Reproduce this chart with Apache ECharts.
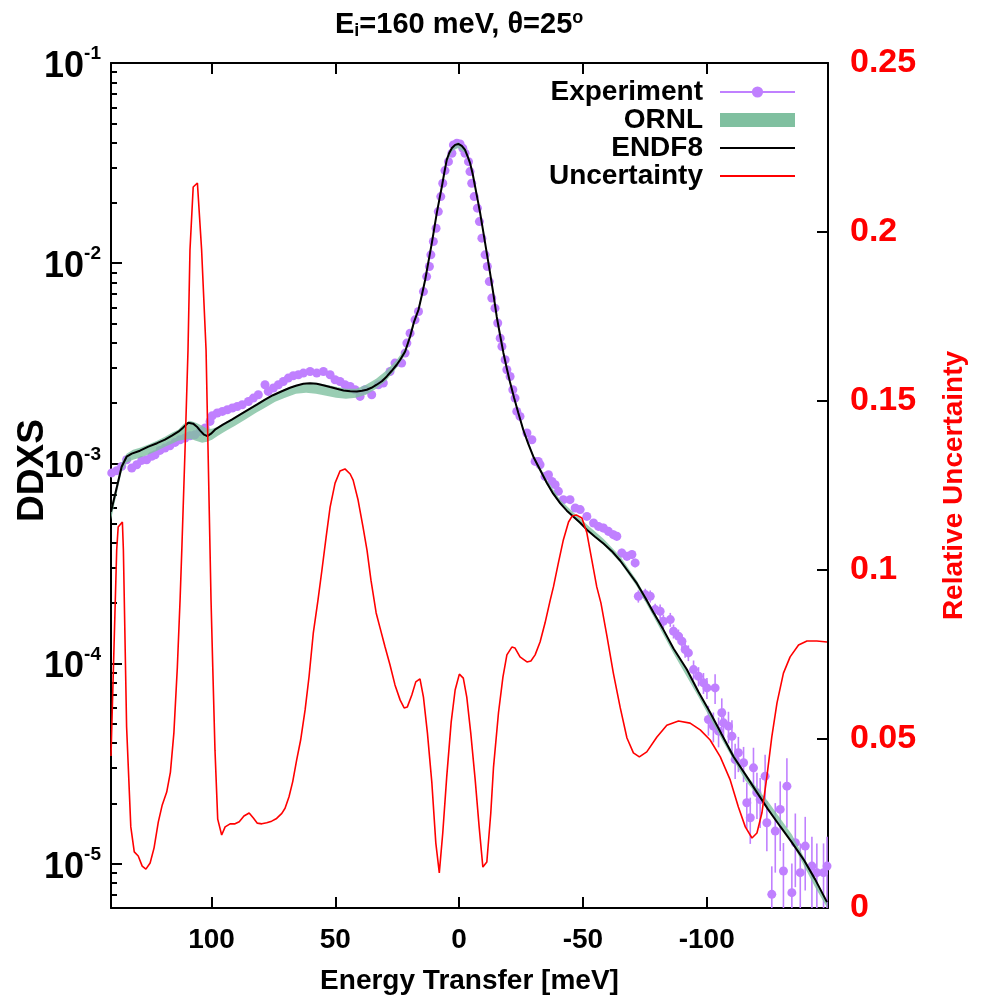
<!DOCTYPE html>
<html><head><meta charset="utf-8">
<script src="https://cdn.jsdelivr.net/npm/echarts@6/dist/echarts.min.js"></script>
<style>html,body{margin:0;padding:0;background:#fff}#c{width:983px;height:999px}</style>
</head><body><div id="c"></div>
<script>
// ---------------- DATA ----------------
// Experiment (energy transfer [meV], DDXS) and relative error
const expX = [140.3,138.3,136.3,134.3,132.2,130.2,128.2,126.2,124.2,122.8,
120.8,118.8,116.8,114.7,112.7,110.7,108.7,106.7,104.6,102.6,
100.6,99.7,97.7,95.6,93.6,91.6,89.6,87.6,85.1,83.1,
81.1,78.4,77.1,75.0,73.0,71.0,69.0,67.0,64.9,62.9,
60.2,57.5,54.8,52.1,50.1,48.1,46.1,44.0,42.0,40.0,
38.0,35.3,32.6,30.6,27.9,25.9,23.2,21.8,21.1,19.8,
17.8,16.4,14.4,13.1,12.0,11.4,10.4,9.3,8.4,7.4,
6.6,5.7,4.3,2.9,2.3,0.9,-0.4,-1.5,-2.4,-3.8,
-4.4,-5.1,-6.1,-7.4,-8.2,-9.2,-10.5,-11.4,-12.2,-13.2,
-14.5,-15.6,-16.6,-17.3,-18.6,-19.3,-20.6,-21.7,-22.6,-23.3,
-24.6,-27.4,-29.4,-30.7,-32.0,-32.7,-34.7,-36.1,-37.5,-38.8,
-40.1,-42.1,-44.8,-46.9,-48.9,-51.6,-54.3,-56.3,-58.3,-60.3,
-62.3,-63.7,-65.7,-67.8,-69.8,-71.1,-72.4,-75.2,-77.2,-79.2,
-81.2,-82.5,-85.3,-86.6,-88.6,-90.0,-91.3,-92.6,-94.7,-96.7,
-98.7,-100.1,-100.7,-102.7,-103.4,-104.8,-106.1,-106.8,-108.8,-110.2,
-111.5,-112.8,-114.9,-116.2,-117.6,-118.9,-120.3,-121.6,-123.6,-124.3,
-126.3,-127.7,-129.7,-131.0,-132.4,-134.4,-135.8,-137.8,-139.8,-142.5,
-144.5,-147.2,-148.6];
const expY = [8.95e-4,9.19e-4,9.65e-4,1.042e-3,9.47e-4,9.84e-4,1.034e-3,1.042e-3,1.083e-3,1.104e-3,
1.160e-3,1.192e-3,1.224e-3,1.272e-3,1.311e-3,1.337e-3,1.373e-3,1.389e-3,1.443e-3,1.501e-3,
1.619e-3,1.728e-3,1.783e-3,1.816e-3,1.852e-3,1.888e-3,1.923e-3,1.961e-3,2.037e-3,2.118e-3,
2.201e-3,2.469e-3,2.286e-3,2.377e-3,2.469e-3,2.564e-3,2.666e-3,2.738e-3,2.769e-3,2.824e-3,
2.876e-3,2.824e-3,2.876e-3,2.769e-3,2.614e-3,2.564e-3,2.469e-3,2.420e-3,2.330e-3,2.158e-3,
2.330e-3,2.201e-3,2.469e-3,2.518e-3,2.876e-3,3.167e-3,3.167e-3,3.553e-3,3.987e-3,4.47e-3,
5.21e-3,5.73e-3,7.21e-3,8.57e-3,9.62e-3,1.100e-2,1.282e-2,1.495e-2,1.810e-2,2.150e-2,
2.507e-2,2.900e-2,3.215e-2,3.540e-2,3.896e-2,3.973e-2,3.941e-2,3.750e-2,3.540e-2,3.215e-2,
2.867e-2,2.507e-2,2.150e-2,1.882e-2,1.613e-2,1.333e-2,1.100e-2,9.62e-3,8.09e-3,6.69e-3,
5.96e-3,5.02e-3,4.22e-3,3.833e-3,3.290e-3,2.933e-3,2.716e-3,2.330e-3,2.118e-3,1.816e-3,
1.715e-3,1.417e-3,1.311e-3,1.022e-3,1.022e-3,9.84e-4,8.60e-4,8.77e-4,8.12e-4,7.82e-4,
7.24e-4,6.58e-4,6.58e-4,5.98e-4,5.87e-4,5.43e-4,5.03e-4,4.84e-4,4.75e-4,4.57e-4,
4.40e-4,4.32e-4,3.565e-4,3.43e-4,3.50e-4,3.18e-4,2.165e-4,2.208e-4,2.165e-4,1.858e-4,
1.822e-4,1.624e-4,1.656e-4,1.448e-4,1.367e-4,1.291e-4,1.173e-4,1.129e-4,9.32e-5,8.63e-5,
8.00e-5,7.55e-5,5.25e-5,4.86e-5,7.55e-5,4.59e-5,5.67e-5,5.05e-5,4.86e-5,4.33e-5,
3.31e-5,3.58e-5,3.19e-5,2.013e-5,1.695e-5,3.01e-5,2.259e-5,2.091e-5,2.734e-5,1.600e-5,
7.02e-6,1.453e-5,1.865e-5,9.18e-6,2.438e-5,7.16e-6,1.271e-5,9.01e-6,1.223e-5,9.72e-6,
9.01e-6,9.01e-6,9.72e-6];
const expErr = [0.01,0.01,0.01,0.01,0.01,0.01,0.01,0.01,0.01,0.01,
0.01,0.01,0.01,0.01,0.01,0.01,0.01,0.01,0.01,0.01,
0.01,0.01,0.01,0.01,0.01,0.01,0.01,0.01,0.01,0.01,
0.01,0.01,0.01,0.01,0.01,0.01,0.01,0.01,0.01,0.01,
0.01,0.01,0.01,0.01,0.01,0.01,0.01,0.01,0.01,0.01,
0.01,0.01,0.01,0.01,0.01,0.01,0.01,0.01,0.01,0.01,
0.01,0.01,0.01,0.01,0.01,0.01,0.01,0.01,0.01,0.01,
0.01,0.01,0.01,0.01,0.01,0.01,0.01,0.01,0.01,0.01,
0.01,0.01,0.01,0.01,0.01,0.01,0.01,0.01,0.01,0.01,
0.01,0.01,0.01,0.01,0.01,0.01,0.02,0.02,0.02,0.02,
0.02,0.02,0.02,0.02,0.03,0.03,0.03,0.03,0.03,0.03,
0.04,0.04,0.04,0.04,0.04,0.04,0.04,0.05,0.05,0.05,
0.05,0.05,0.05,0.05,0.05,0.05,0.07,0.07,0.07,0.07,
0.08,0.08,0.08,0.08,0.08,0.08,0.09,0.09,0.11,0.11,
0.12,0.12,0.17,0.17,0.17,0.17,0.18,0.18,0.18,0.20,
0.20,0.20,0.20,0.26,0.26,0.26,0.26,0.28,0.28,0.28,
0.38,0.38,0.38,0.38,0.38,0.40,0.40,0.40,0.40,0.40,
0.40,0.40,0.40];

// ORNL band (lower / upper)
const ornlX = [140.6,138.3,136.3,134.3,131.7,128.9,125.7,122.0,118.8,116.0,
113.5,111.1,108.7,106.3,103.8,101.8,99.8,97.4,94.1,90.5,
86.5,82.0,78.4,74.3,70.3,65.9,61.8,57.8,53.7,49.7,
45.7,41.6,37.6,33.5,29.5,25.5,21.8,18.2,16.4,13.7,
11.0,9.0,7.0,5.0,2.8,0.4,-2.4,-4.4,-6.5,-8.5,
-10.5,-12.5,-15.2,-17.9,-20.6,-23.9,-26.0,-30.0,-35.4,-40.8,
-46.2,-51.6,-58.3,-65.1,-71.8,-78.5,-86.6,-96.6,-106.1,-115.6,
-124.8,-134.4,-143.8,-148.6];
const ornlHi = [6.00e-4,7.91e-4,1.007e-3,1.117e-3,1.169e-3,1.197e-3,1.239e-3,1.297e-3,1.358e-3,1.422e-3,
1.472e-3,1.578e-3,1.633e-3,1.596e-3,1.541e-3,1.489e-3,1.489e-3,1.524e-3,1.614e-3,1.710e-3,
1.832e-3,1.986e-3,2.104e-3,2.226e-3,2.358e-3,2.469e-3,2.526e-3,2.526e-3,2.469e-3,2.413e-3,
2.358e-3,2.358e-3,2.469e-3,2.645e-3,2.899e-3,3.253e-3,3.734e-3,5.21e-3,6.0e-3,8.44e-3,
1.29e-2,1.824e-2,2.46e-2,3.354e-2,3.851e-2,4.032e-2,3.763e-2,3.25e-2,2.460e-2,1.82e-2,
1.292e-2,9.2e-3,5.52e-3,3.65e-3,2.585e-3,1.83e-3,1.506e-3,1.104e-3,8.28e-4,6.58e-4,
5.67e-4,4.94e-4,4.20e-4,3.42e-4,2.594e-4,1.837e-4,1.200e-4,7.32e-5,4.47e-5,2.82e-5,
2.044e-5,1.399e-5,8.44e-6,6.48e-6];
const ornlLo = [5.23e-4,7.05e-4,9.08e-4,1.007e-3,1.042e-3,1.067e-3,1.104e-3,1.156e-3,1.211e-3,1.253e-3,
1.297e-3,1.312e-3,1.327e-3,1.297e-3,1.267e-3,1.282e-3,1.312e-3,1.374e-3,1.455e-3,1.541e-3,
1.652e-3,1.791e-3,1.897e-3,2.030e-3,2.126e-3,2.226e-3,2.252e-3,2.226e-3,2.175e-3,2.126e-3,
2.104e-3,2.126e-3,2.20e-3,2.36e-3,2.585e-3,2.967e-3,3.485e-3,4.92e-3,5.7e-3,8.06e-3,
1.23e-2,1.742e-2,2.34e-2,3.167e-2,3.636e-2,3.763e-2,3.553e-2,3.09e-2,2.349e-2,1.74e-2,
1.234e-2,8.7e-3,5.27e-3,3.47e-3,2.469e-3,1.75e-3,1.438e-3,1.054e-3,7.82e-4,6.21e-4,
5.35e-4,4.61e-4,3.92e-4,3.19e-4,2.421e-4,1.714e-4,1.120e-4,6.84e-5,4.17e-5,2.60e-5,
1.886e-5,1.276e-5,7.61e-6,6.04e-6];

// ENDF8 curve
const endfX = [140.6,138.3,136.3,134.3,132.2,128.9,125.5,122.0,118.8,116.0,
113.4,111.5,109.4,107.4,105.9,104.6,103.0,101.7,100.2,98.6,
95.4,91.8,88.5,85.1,81.7,78.4,75.2,71.6,68.3,65.9,
62.9,60.2,57.5,54.9,52.1,49.4,46.7,44.0,41.3,39.2,
37.3,35.4,33.3,31.2,29.2,27.2,25.2,23.8,21.8,19.8,
18.2,16.4,15.1,13.7,12.4,11.0,10.0,9.0,8.0,7.0,
6.0,5.0,4.0,2.9,1.6,0.3,-1.1,-2.4,-3.4,-4.4,
-5.5,-6.5,-7.5,-8.5,-9.5,-10.5,-11.5,-12.5,-13.9,-15.2,
-16.6,-17.9,-19.3,-20.6,-22.2,-23.9,-25.9,-27.9,-30.0,-32.7,
-35.4,-38.0,-40.8,-43.5,-46.2,-48.9,-51.6,-54.9,-58.3,-61.7,
-65.1,-68.3,-71.8,-75.2,-78.5,-82.5,-86.6,-92.0,-96.6,-101.4,
-106.1,-110.8,-115.6,-120.3,-124.8,-129.7,-134.4,-139.1,-143.8,-148.6];
const endfY = [5.73e-4,7.55e-4,9.61e-4,1.079e-3,1.117e-3,1.156e-3,1.211e-3,1.260e-3,1.312e-3,1.374e-3,
1.439e-3,1.507e-3,1.596e-3,1.578e-3,1.524e-3,1.456e-3,1.390e-3,1.366e-3,1.406e-3,1.472e-3,
1.559e-3,1.652e-3,1.750e-3,1.854e-3,1.962e-3,2.080e-3,2.188e-3,2.291e-3,2.384e-3,2.440e-3,
2.497e-3,2.512e-3,2.497e-3,2.455e-3,2.404e-3,2.357e-3,2.312e-3,2.291e-3,2.286e-3,2.304e-3,
2.331e-3,2.384e-3,2.469e-3,2.570e-3,2.716e-3,2.899e-3,3.107e-3,3.291e-3,3.621e-3,4.286e-3,
5.09e-3,5.85e-3,6.87e-3,8.26e-3,1.015e-2,1.263e-2,1.500e-2,1.783e-2,2.07e-2,2.40e-2,
2.82e-2,3.28e-2,3.55e-2,3.76e-2,3.90e-2,3.94e-2,3.85e-2,3.68e-2,3.43e-2,3.17e-2,
2.79e-2,2.40e-2,2.07e-2,1.78e-2,1.50e-2,1.263e-2,1.063e-2,8.95e-3,6.95e-3,5.40e-3,
4.34e-3,3.56e-3,2.97e-3,2.53e-3,2.126e-3,1.789e-3,1.471e-3,1.253e-3,1.079e-3,9.29e-4,
8.00e-4,7.05e-4,6.32e-4,5.80e-4,5.41e-4,5.05e-4,4.66e-4,4.30e-4,3.97e-4,3.64e-4,
3.26e-4,2.88e-4,2.51e-4,2.13e-4,1.795e-4,1.476e-4,1.187e-4,9.32e-5,7.24e-5,5.69e-5,
4.42e-5,3.43e-5,2.79e-5,2.27e-5,1.865e-5,1.533e-5,1.276e-5,1.050e-5,8.34e-6,6.42e-6];

// Relative uncertainty (right axis)
const uncX = [140.6,138.3,137.7,136.0,135.6,134.3,132.6,131.2,129.6,128.0,
126.5,124.8,123.2,121.5,119.9,118.1,116.6,115.2,113.8,112.7,
112.0,110.7,109.5,108.7,107.4,105.7,104.0,102.2,101.4,100.6,
100.2,99.5,98.6,97.5,95.9,94.5,92.5,90.5,88.8,86.9,
84.8,83.1,81.5,79.7,77.7,75.7,73.7,71.6,70.3,68.7,
67.2,65.6,64.0,62.2,60.6,58.9,57.0,55.4,53.7,52.1,
50.1,48.1,46.1,44.0,42.8,40.8,38.8,37.2,35.6,33.5,
31.9,29.9,27.9,25.9,23.8,22.2,20.9,19.1,17.5,15.8,
14.4,12.8,11.0,9.4,8.0,6.6,5.0,3.2,1.6,-0.1,
-1.7,-3.1,-4.7,-6.5,-8.1,-9.6,-11.2,-12.8,-13.9,-15.9,
-17.7,-19.3,-21.3,-22.6,-24.6,-27.4,-29.0,-30.7,-32.7,-34.7,
-36.8,-38.1,-40.1,-42.1,-44.2,-45.7,-47.3,-49.6,-51.6,-53.6,
-55.6,-57.3,-59.7,-62.3,-65.1,-67.8,-70.4,-72.8,-75.8,-79.9,
-83.9,-88.6,-93.3,-97.4,-101.4,-105.5,-109.5,-112.8,-115.6,-118.3,
-120.3,-122.3,-124.3,-126.3,-128.4,-131.0,-133.7,-137.1,-140.5,-144.5,
-148.6];
const uncY = [0.045,0.106,0.1127,0.1142,0.106,0.0536,0.024,0.0166,0.0154,0.0124,
0.0115,0.0133,0.0178,0.0254,0.0305,0.0343,0.0402,0.0518,0.0713,0.0911,
0.106,0.1355,0.165,0.1947,0.2133,0.2145,0.1947,0.165,0.1355,0.106,
0.0911,0.0713,0.0467,0.0263,0.0216,0.024,0.0249,0.0249,0.0255,0.0272,
0.0281,0.0266,0.0251,0.0249,0.0252,0.0257,0.0265,0.028,0.0295,0.0329,
0.0374,0.0438,0.0497,0.0586,0.0685,0.0813,0.0911,0.100,0.1098,0.1186,
0.1257,0.1293,0.1299,0.1284,0.1266,0.1207,0.1127,0.1059,0.097,0.0873,
0.0828,0.0772,0.0719,0.066,0.0615,0.0592,0.0595,0.063,0.0669,0.0678,
0.0624,0.0518,0.037,0.0192,0.0104,0.0222,0.0388,0.055,0.0645,0.0692,
0.068,0.0624,0.0518,0.0379,0.024,0.0121,0.0136,0.0281,0.0417,0.0577,
0.0683,0.0749,0.0772,0.0769,0.0743,0.0728,0.0731,0.0749,0.0787,0.0843,
0.0911,0.095,0.1021,0.1089,0.1142,0.116,0.1163,0.1154,0.111,0.103,
0.095,0.0902,0.0805,0.0695,0.0592,0.0503,0.0459,0.0447,0.0462,0.0506,
0.0541,0.0553,0.0547,0.0527,0.0497,0.0447,0.0379,0.0299,0.024,0.0207,
0.0222,0.0281,0.0388,0.0506,0.0607,0.0695,0.0743,0.0778,0.079,0.079,
0.0787];

// Axis ticks / ranges
const xTicks = [100, 50, 0, -50, -100];
const xMin = -149, xMax = 140.6;
const yMin = 6e-6, yMax = 0.1;
const rMin = 0, rMax = 0.25, rStep = 0.05;

// ---------------- CHART ----------------
const FONT = '"Liberation Sans", Arial, Helvetica, sans-serif';
const PURPLE = '#c080ff', GREEN = '#80c0a0', RED = '#ff0000';
const minorVals = [];
for (let e = -6; e <= -2; e++) for (let k = 2; k <= 9; k++) {
  const v = k * Math.pow(10, e);
  if (v >= yMin && v <= yMax) minorVals.push(Math.log10(v));
}
const chart = echarts.init(document.getElementById('c'), null, {renderer: 'canvas'});
const tickStyle = {color: '#000', width: 2};
const xAxisBase = {
  type: 'value', min: xMin, max: xMax, inverse: true,
  splitLine: {show: false},
  axisLine: {show: true, onZero: false, lineStyle: tickStyle},
  axisTick: {show: true, inside: true, length: 11, customValues: xTicks, lineStyle: tickStyle}
};
const errData = expX.map((x, i) => [x, expY[i] * (1 - expErr[i]), expY[i] * (1 + expErr[i])]);

const option = {
  backgroundColor: '#fff',
  animation: false,
  title: {
    text: 'E{sub|i}=160 meV, θ=25{sup|o}',
    left: 330, top: 4,
    textStyle: {
      fontFamily: FONT, fontSize: 29, fontWeight: 'bold', color: '#000',
      rich: {
        sub: {fontFamily: FONT, fontSize: 18, fontWeight: 'bold', color: '#000', padding: [13, 0, 0, 0]},
        sup: {fontFamily: FONT, fontSize: 18, fontWeight: 'bold', color: '#000', padding: [0, 0, 13, 0]}
      }
    }
  },
  legend: {
    orient: 'vertical', right: 187, top: 78, padding: 0, itemGap: 0,
    align: 'right', itemWidth: 75, itemHeight: 14, selectedMode: false,
    textStyle: {fontFamily: FONT, fontSize: 28, fontWeight: 'bold', color: '#000', lineHeight: 28, padding: [0, 12, 0, 0]},
    data: [
      {name: 'Experiment', lineStyle: {color: PURPLE, width: 2, opacity: 1}},
      {name: 'ORNL', icon: 'rect'},
      {name: 'ENDF8', icon: 'path://M0 0H75V1.8H0Z'},
      {name: 'Uncertainty', icon: 'path://M0 0H75V1.8H0Z'}
    ]
  },
  grid: {left: 111, right: 155, top: 63, bottom: 91, containLabel: false, outerBoundsMode: 'none'},
  xAxis: [
    Object.assign({}, xAxisBase, {
      position: 'bottom',
      axisLabel: {show: true, customValues: xTicks, margin: 18, fontFamily: FONT, fontSize: 28, fontWeight: 'bold', color: '#000',
        formatter: v => (Math.abs(v % 50) < 1e-6 ? String(v) : '')},
      name: 'Energy Transfer [meV]', nameLocation: 'middle', nameGap: 59,
      nameTextStyle: {fontFamily: FONT, fontSize: 28, fontWeight: 'bold', color: '#000'}
    }),
    Object.assign({}, xAxisBase, {position: 'top', axisLabel: {show: false}})
  ],
  yAxis: [
    {
      type: 'log', logBase: 10, min: yMin, max: yMax, position: 'left',
      splitLine: {show: false},
      axisLine: {show: true, onZero: false, lineStyle: tickStyle},
      axisTick: {show: true, inside: true, length: 11, lineStyle: tickStyle},
      axisLabel: {
        margin: 10, color: '#000',
        formatter: v => {
          const e = Math.log10(v);
          if (Math.abs(e - Math.round(e)) > 1e-6) return '';
          return '{b|10}{s|' + Math.round(e) + '}';
        },
        rich: {
          b: {fontFamily: FONT, fontSize: 36, fontWeight: 'bold', color: '#000', padding: [8, 0, 0, 0]},
          s: {fontFamily: FONT, fontSize: 19, fontWeight: 'bold', color: '#000', padding: [0, 0, 18, 0]}
        }
      },
      name: 'DDXS', nameLocation: 'middle', nameRotate: 90, nameGap: 60, nameMoveOverlap: false,
      nameTextStyle: {fontFamily: FONT, fontSize: 37, fontWeight: 'bold', color: '#000', padding: [0, 0, 0, 30]}
    },
    {
      type: 'value', min: rMin, max: rMax, interval: rStep, position: 'right',
      splitLine: {show: false},
      axisLine: {show: true, onZero: false, lineStyle: tickStyle},
      axisTick: {show: true, inside: true, length: 11, lineStyle: tickStyle},
      axisLabel: {margin: 22, fontFamily: FONT, fontSize: 34, fontWeight: 'bold', color: RED},
      name: 'Relative Uncertainty', nameLocation: 'middle', nameRotate: 90, nameGap: 112,
      nameTextStyle: {fontFamily: FONT, fontSize: 28, fontWeight: 'bold', color: RED}
    },
    {
      type: 'value', min: Math.log10(yMin), max: Math.log10(yMax), position: 'left',
      splitLine: {show: false}, axisLine: {show: false, onZero: false}, axisLabel: {show: false},
      axisTick: {show: true, inside: true, length: 6, customValues: minorVals, lineStyle: tickStyle}
    }
  ],
  series: [
    {
      name: 'ExpErr', type: 'custom', xAxisIndex: 0, yAxisIndex: 0, z: 1, clip: true,
      encode: {x: 0, y: [1, 2]},
      data: errData,
      renderItem: (params, api) => {
        const x = api.value(0);
        const p1 = api.coord([x, api.value(2)]);
        const p2 = api.coord([x, api.value(1)]);
        const cs = params.coordSys;
        const y1 = Math.max(cs.y, Math.min(cs.y + cs.height, p1[1]));
        const y2 = Math.max(cs.y, Math.min(cs.y + cs.height, p2[1]));
        return {type: 'line', shape: {x1: p1[0], y1: y1, x2: p2[0], y2: y2}, style: {stroke: PURPLE, lineWidth: 1.6}};
      },
      silent: true
    },
    {
      name: 'Experiment', type: 'line', xAxisIndex: 0, yAxisIndex: 0, z: 2,
      data: expX.map((x, i) => [x, expY[i]]),
      symbol: 'circle', symbolSize: 9, showSymbol: true,
      lineStyle: {width: 0, opacity: 0},
      itemStyle: {color: PURPLE},
      emphasis: {disabled: true}
    },
    {
      name: 'ORNL', type: 'custom', xAxisIndex: 0, yAxisIndex: 0, z: 3, clip: true,
      encode: {x: 0, y: [1, 2]},
      itemStyle: {color: GREEN},
      data: ornlX.map((x, i) => [x, ornlLo[i], ornlHi[i]]),
      renderItem: (params, api) => {
        if (params.dataIndex !== 0) return null;
        const pts = [];
        for (let i = 0; i < ornlX.length; i++) pts.push(api.coord([ornlX[i], ornlHi[i]]));
        for (let i = ornlX.length - 1; i >= 0; i--) pts.push(api.coord([ornlX[i], ornlLo[i]]));
        return {type: 'polygon', shape: {points: pts}, style: {fill: GREEN, opacity: 0.8}};
      },
      silent: true
    },
    {
      name: 'ENDF8', type: 'line', xAxisIndex: 0, yAxisIndex: 0, z: 4,
      data: endfX.map((x, i) => [x, endfY[i]]),
      symbol: 'none', showSymbol: false,
      lineStyle: {color: '#000', width: 2},
      itemStyle: {color: '#000'}
    },
    {
      name: 'Uncertainty', type: 'line', xAxisIndex: 0, yAxisIndex: 1, z: 5,
      data: uncX.map((x, i) => [x, uncY[i]]),
      symbol: 'none', showSymbol: false,
      lineStyle: {color: RED, width: 1.6},
      itemStyle: {color: RED}
    }
  ]
};
chart.setOption(option);
</script>
</body></html>
